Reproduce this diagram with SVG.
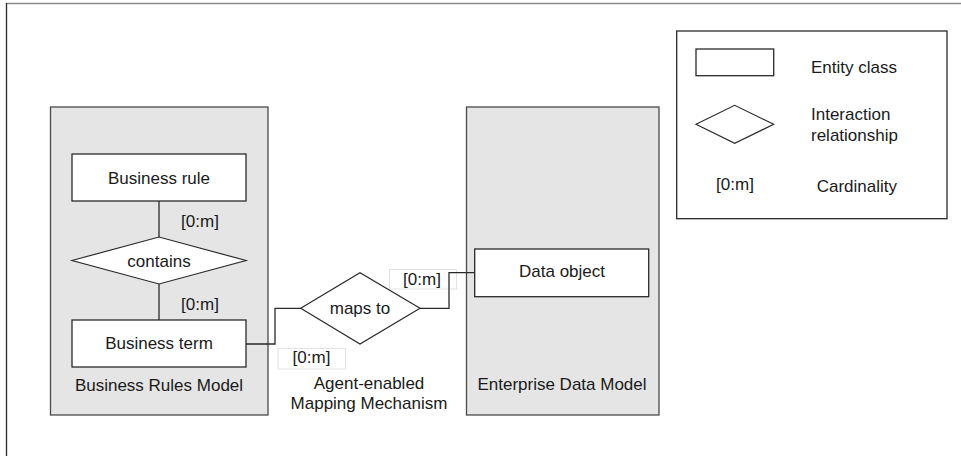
<svg xmlns="http://www.w3.org/2000/svg" width="961" height="456" viewBox="0 0 961 456">
<style>
text{font-family:"Liberation Sans",Arial,sans-serif;font-size:17px;fill:#1a1a1a}
.c{text-anchor:middle}
.panel{fill:#e5e5e5;stroke:#4a4a4a;stroke-width:1.3}
.ent{fill:#fff;stroke:#2a2a2a;stroke-width:1.3}
.rel{fill:#fff;stroke:#2a2a2a;stroke-width:1.2}
.lbl{fill:#fff;stroke:#e2e2e2;stroke-width:1}
.conn{fill:none;stroke:#2a2a2a;stroke-width:1.3}
</style>
<rect x="0" y="0" width="961" height="456" fill="#fff"/>
<g id="frame">
<line x1="6" y1="3.5" x2="961" y2="3.5" stroke="#8a8a8a" stroke-width="1.5"/>
<line x1="6.5" y1="3" x2="6.5" y2="456" stroke="#2a2a2a" stroke-width="1.3"/>
</g>
<g id="business-rules-model">
<rect class="panel" x="50.5" y="107" width="217.5" height="308"/>
<text class="c" x="159" y="390.5">Business Rules Model</text>
</g>
<g id="enterprise-data-model">
<rect class="panel" x="466.5" y="107" width="192.5" height="308"/>
<text class="c" x="562" y="390">Enterprise Data Model</text>
</g>
<g id="mechanism-label">
<text class="c" x="369" y="388.5">Agent-enabled</text>
<text class="c" x="369" y="408.5">Mapping Mechanism</text>
</g>
<g id="connectors">
<line class="conn" x1="159" y1="201" x2="159" y2="237"/>
<line class="conn" x1="159" y1="284" x2="159" y2="320"/>
<polyline class="conn" points="246,344 275,344 275,308.3 300.7,308.3"/>
<rect class="lbl" x="389.5" y="269.5" width="67" height="19.5"/>
<rect class="lbl" x="278" y="348.5" width="67.5" height="20.5"/>
<polyline class="conn" points="420,308.3 449,308.3 449,272.7 474.7,272.7"/>
<text class="c" x="200" y="226.5">[0:m]</text>
<text class="c" x="200" y="310">[0:m]</text>
<text class="c" x="422" y="284.5">[0:m]</text>
<text class="c" x="311.5" y="363">[0:m]</text>
</g>
<g id="business-rule">
<rect class="ent" x="72" y="154" width="174" height="47"/>
<text class="c" x="159" y="184">Business rule</text>
</g>
<g id="contains">
<polygon class="rel" points="72,260.5 159,237 246,260.5 159,284"/>
<text class="c" x="159" y="266.5">contains</text>
</g>
<g id="business-term">
<rect class="ent" x="72" y="320" width="174" height="47"/>
<text class="c" x="159" y="349">Business term</text>
</g>
<g id="maps-to">
<polygon class="rel" points="300.7,308.3 360,272.7 420,308.3 360,344"/>
<text class="c" x="360" y="313.5">maps to</text>
</g>
<g id="data-object">
<rect class="ent" x="474.7" y="249" width="174" height="47.7"/>
<text class="c" x="562" y="277">Data object</text>
</g>
<g id="legend">
<rect fill="#fff" stroke="#2a2a2a" stroke-width="1.3" x="676.7" y="31" width="270.3" height="187.7"/>
<rect class="ent" x="696" y="49" width="77.7" height="26.7" stroke-width="1"/>
<text x="811" y="73">Entity class</text>
<polygon class="rel" points="696,124.3 734.7,105.3 773.7,124.3 734.7,143.3" stroke-width="1"/>
<text x="811" y="119.5">Interaction</text>
<text x="811" y="141">relationship</text>
<text class="c" x="735" y="189.5">[0:m]</text>
<text x="816.7" y="191.5">Cardinality</text>
</g>
</svg>
